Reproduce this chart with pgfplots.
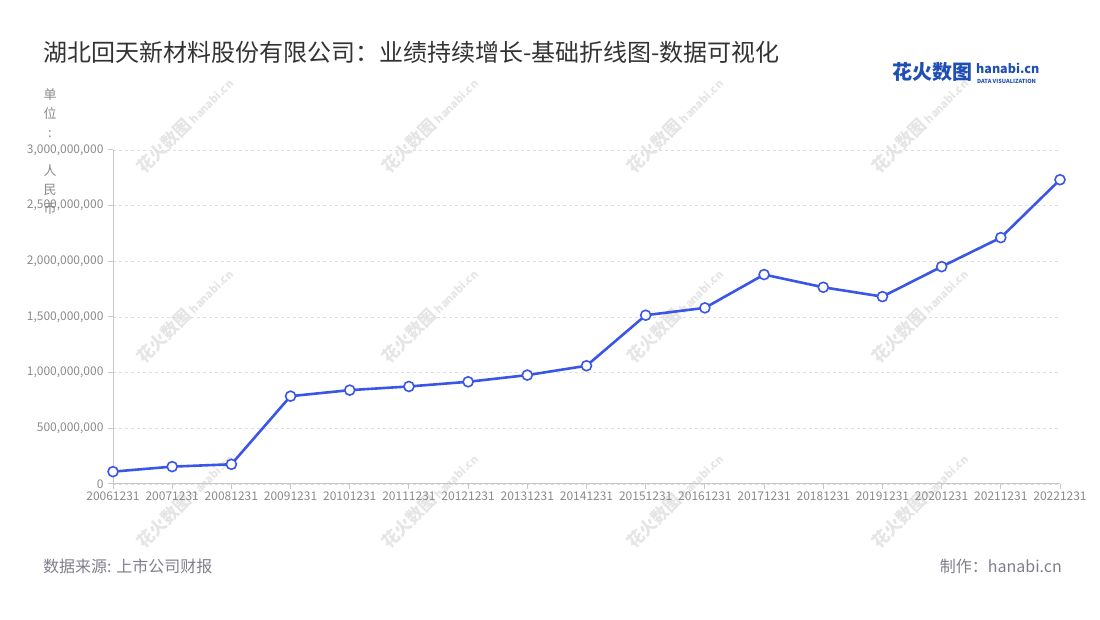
\documentclass[border=0pt]{standalone}
\usepackage{fontspec}
\setmainfont{Noto Sans CJK SC}
\usepackage{pgfplots}
\pgfplotsset{compat=1.18}
\definecolor{lineblue}{HTML}{3A56E8}
\definecolor{titlegray}{HTML}{333333}
\definecolor{labelgray}{HTML}{8A8A8A}
\definecolor{footgray}{HTML}{7F7F8C}
\definecolor{axisgray}{HTML}{C8C8C8}
\definecolor{gridgray}{HTML}{DEDEDE}
\definecolor{logoblue}{HTML}{1F4FB5}
\begin{document}
\begin{tikzpicture}[x=1pt,y=1pt]
\path[use as bounding box] (0,0) rectangle (1100,620);
% faint watermarks
\foreach \wx in {185,430,675,920}{
  \foreach \wy in {495,305,120}{
    \node[rotate=45, text=gray!20, font=\bfseries\fontsize{17}{17}\selectfont] at (\wx,\wy) {花火数图\,\fontsize{11}{11}\selectfont hanabi.cn};
  }
}
\begin{axis}[
  at={(113pt,136pt)}, anchor=south west,
  scale only axis, width=947pt, height=334pt,
  xmin=0, xmax=16, ymin=0, ymax=3000000000,
  scaled y ticks=false,
  clip=false,
  axis x line=bottom, axis y line=left,
  axis line style={-, draw=axisgray, line width=1pt},
  xtick={0,...,16},
  xticklabels={20061231,20071231,20081231,20091231,20101231,20111231,20121231,20131231,20141231,20151231,20161231,20171231,20181231,20191231,20201231,20211231,20221231},
  ytick={0,500000000,1000000000,1500000000,2000000000,2500000000,3000000000},
  yticklabels={0,{500,000,000},{1,000,000,000},{1,500,000,000},{2,000,000,000},{2,500,000,000},{3,000,000,000}},
  tick align=outside, major tick length=5pt,
  tick style={draw=axisgray, line width=1pt},
  ticklabel style={font=\fontsize{12}{12}\selectfont, text=labelgray},
  xticklabel style={yshift=1pt},
  yticklabel style={xshift=-1pt},
  ymajorgrids, grid style={dashed, draw=gridgray, line width=0.8pt},
  /pgf/number format/assume math mode=true,
]
\addplot[lineblue, line width=2.6pt, mark=*, mark size=5pt,
  mark options={fill=white, draw=lineblue, line width=1.6pt}] coordinates {
  (0, 111000000)
  (1, 156000000)
  (2, 177000000)
  (3, 789000000)
  (4, 843000000)
  (5, 876000000)
  (6, 918000000)
  (7, 978000000)
  (8, 1062000000)
  (9, 1516000000)
  (10, 1582000000)
  (11, 1881000000)
  (12, 1767000000)
  (13, 1683000000)
  (14, 1952000000)
  (15, 2213000000)
  (16, 2733000000)
};
\end{axis}
% title
\node[anchor=west, text=titlegray, font=\fontsize{24}{24}\selectfont, inner sep=0pt] at (43,568) {湖北回天新材料股份有限公司：业绩持续增长-基础折线图-数据可视化};
% unit label, stacked vertically
\node[anchor=north, text=labelgray, font=\fontsize{13}{19}\selectfont, align=center, inner sep=0pt] at (50,532) {单\\位\\:\\~\\人\\民\\币};
% logo
\node[anchor=west, text=logoblue, font=\bfseries\fontsize{20}{20}\selectfont, inner sep=0pt] at (892,548) {花火数图};
\node[anchor=west, text=logoblue, font=\bfseries\fontsize{12.5}{12.5}\selectfont, inner sep=0pt] at (976,552) {hanabi.cn};
\node[anchor=west, text=logoblue, font=\bfseries\fontsize{5.6}{5.6}\selectfont, inner sep=0pt] at (977,539) {DATA VISUALIZATION};
% footer
\node[anchor=west, text=footgray, font=\fontsize{16}{16}\selectfont, inner sep=0pt] at (43,54) {数据来源: 上市公司财报};
\node[anchor=east, text=footgray, font=\fontsize{16}{16}\selectfont, inner sep=0pt] at (1062,54) {制作：hanabi.cn};
\end{tikzpicture}
\end{document}
